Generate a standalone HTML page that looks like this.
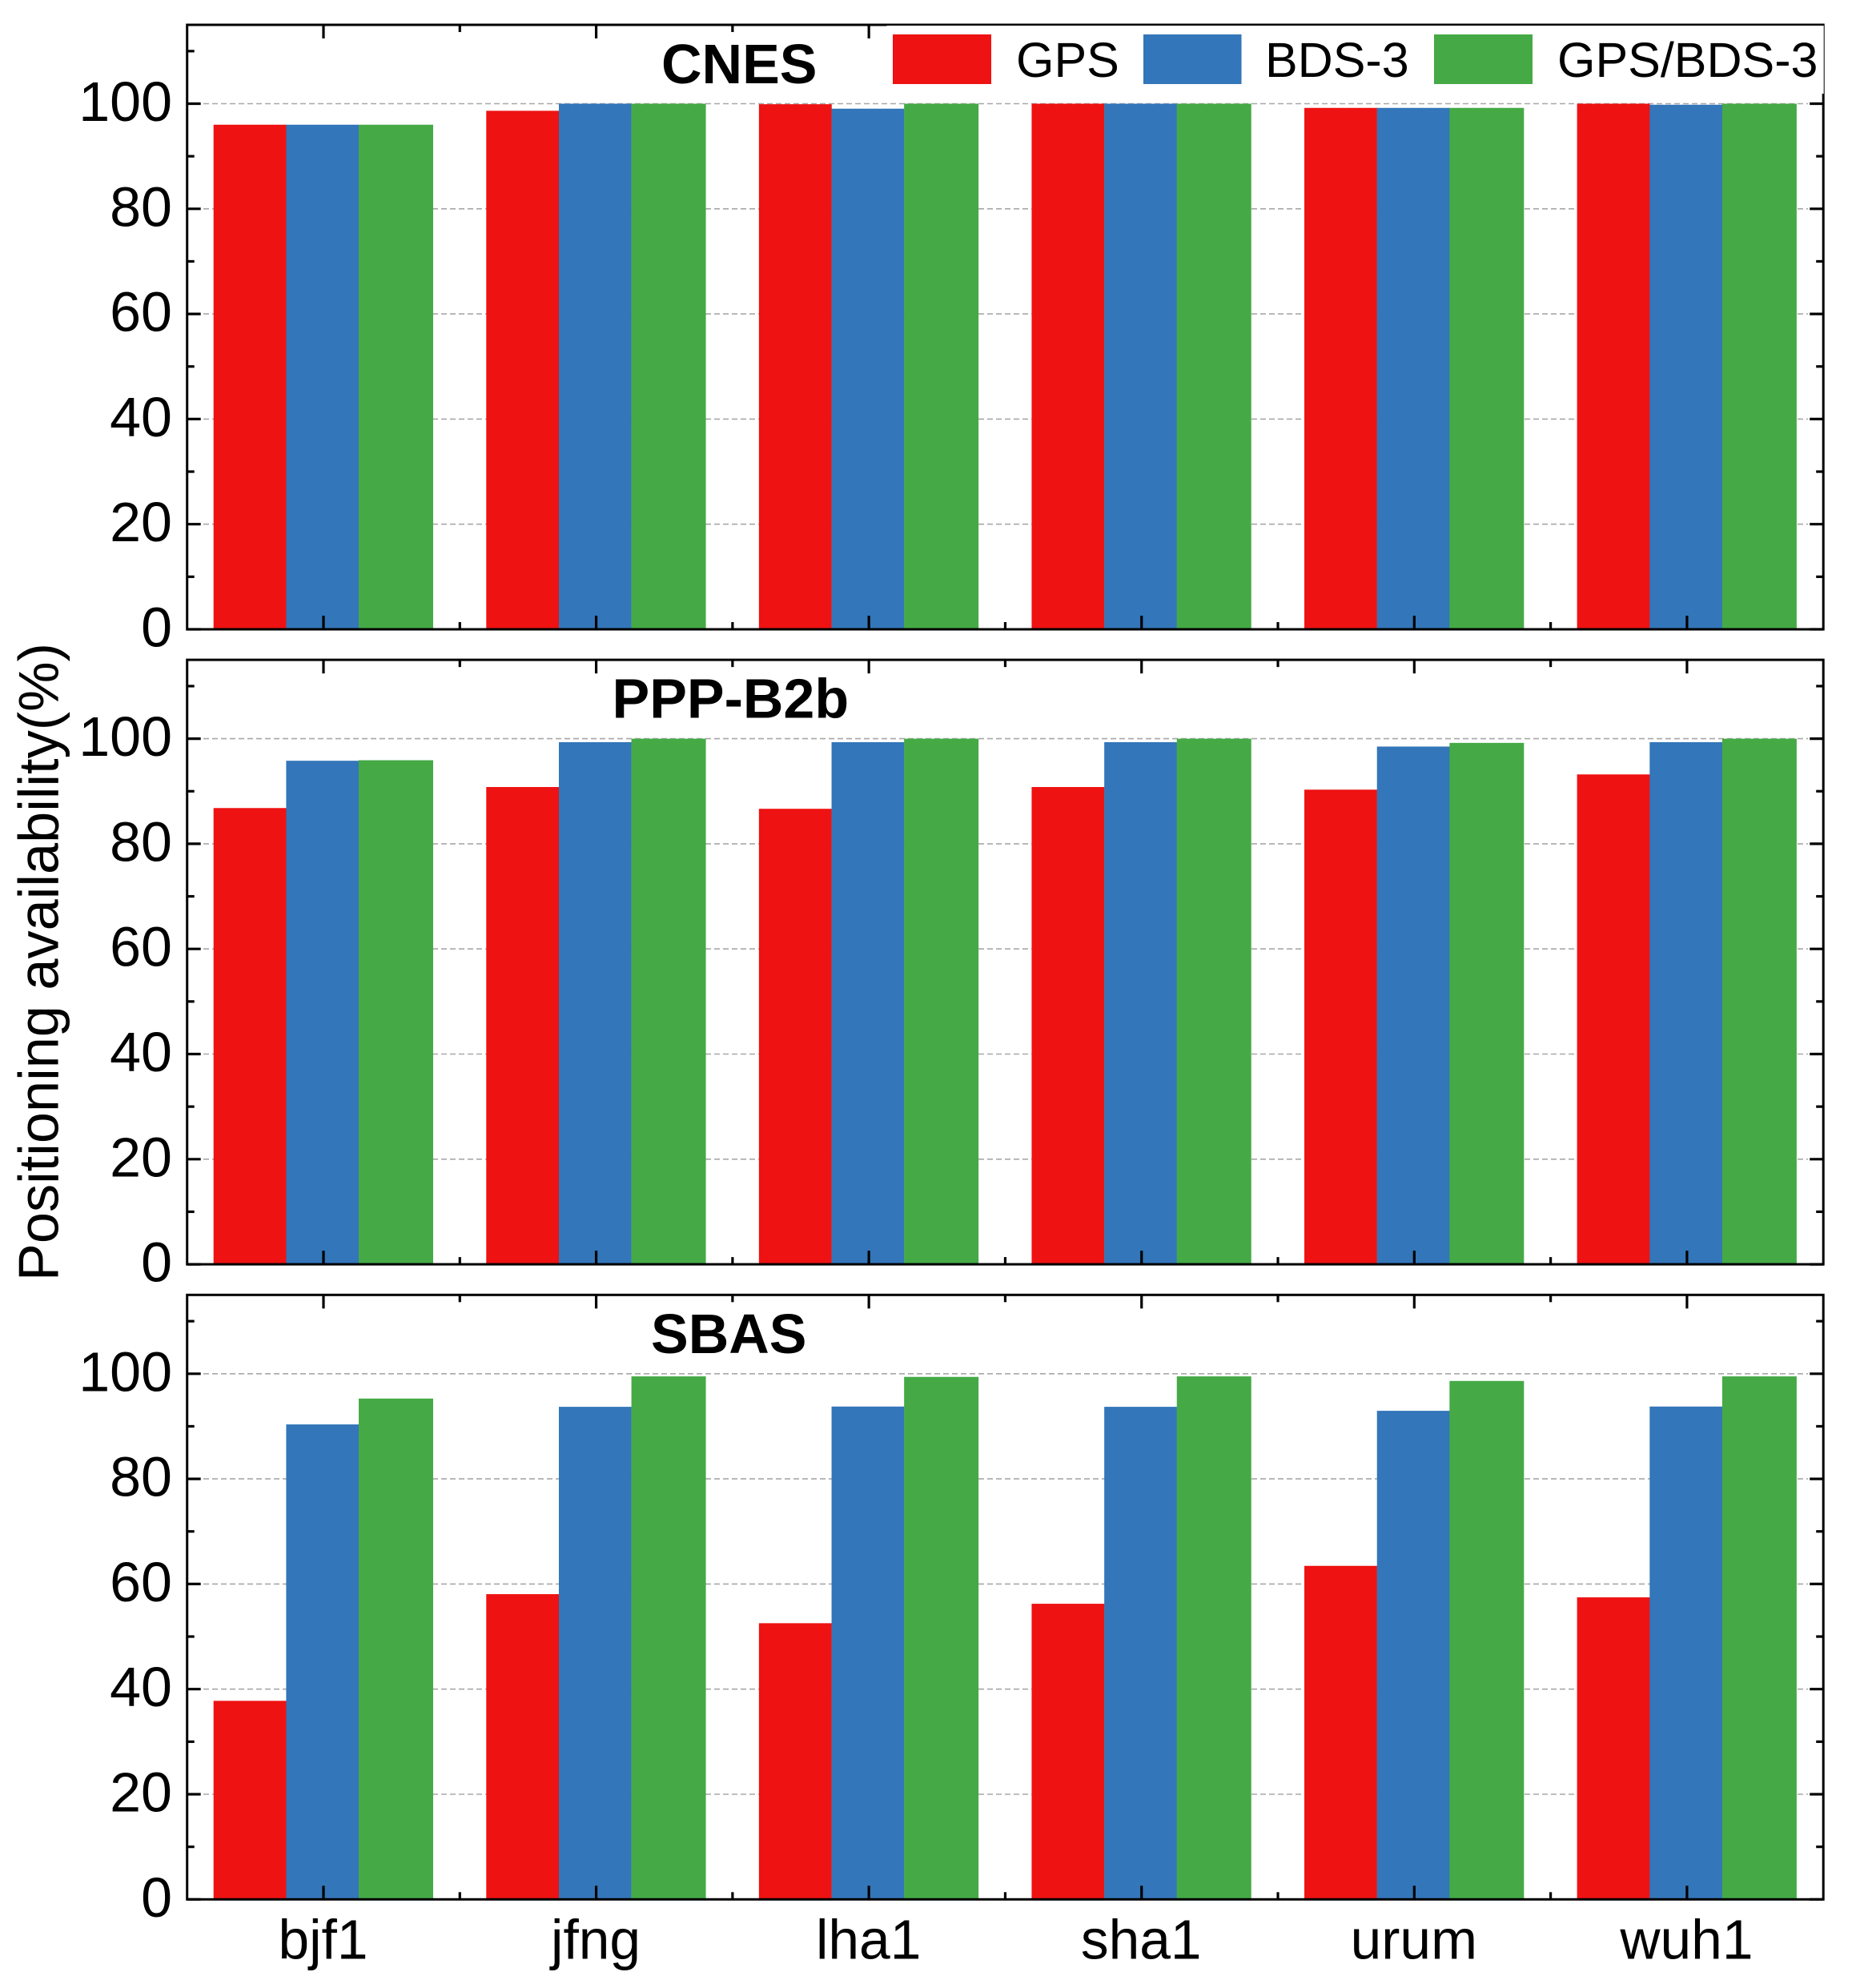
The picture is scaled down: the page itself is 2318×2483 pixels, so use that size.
<!DOCTYPE html>
<html lang="en">
<head>
<meta charset="utf-8">
<title>Positioning availability by station</title>
<style>
html,body{margin:0;padding:0;background:#fff;width:2318px;height:2483px;overflow:hidden}
svg{display:block;font-family:"Liberation Sans",Arial,sans-serif}
</style>
</head>
<body>
<svg id="chart" xmlns="http://www.w3.org/2000/svg" width="2318" height="2483" viewBox="0 0 2318 2483">
  <rect x="0" y="0" width="2318" height="2483" fill="#ffffff"/>
  <g id="panels"></g>
  <text transform="translate(72.5,1600) rotate(-90)" font-size="70.3" fill="#000">Positioning availability(%)</text>
  <g>
    <rect x="1107.5" y="32" width="1170.2" height="85" fill="#ffffff"/>
    <rect x="1115" y="43" width="123" height="62" fill="#EE1212"/>
    <text x="1269" y="96" font-size="61" fill="#000">GPS</text>
    <rect x="1428" y="43" width="122.5" height="62" fill="#3376B9"/>
    <text x="1580" y="96" font-size="61" fill="#000">BDS-3</text>
    <rect x="1791" y="43" width="123" height="62" fill="#45AA46"/>
    <text x="1945" y="96" font-size="61" fill="#000">GPS/BDS-3</text>
  </g>
</svg>
<script>
const categories = ['bjf1', 'jfng', 'lha1', 'sha1', 'urum', 'wuh1'];
const seriesNames = ['gps', 'bds3', 'gps-bds3'];
const panelNames = ['CNES', 'PPP-B2b', 'SBAS'];

const cnesGps = [96, 98.65, 99.9, 100, 99.2, 100];
const cnesBds = [96, 100, 99.05, 100, 99.2, 99.8];
const cnesCombined = [96, 100, 100, 100, 99.2, 100];

const b2bGps = [86.8, 90.8, 86.66, 90.8, 90.3, 93.2];
const b2bBds = [95.8, 99.34, 99.34, 99.34, 98.5, 99.34];
const b2bCombined = [95.9, 100, 100, 100, 99.2, 100];

const sbasGps = [37.77, 58.07, 52.54, 56.24, 63.45, 57.46];
const sbasBds = [90.36, 93.71, 93.76, 93.71, 92.95, 93.76];
const sbasCombined = [95.28, 99.5, 99.4, 99.5, 98.63, 99.5];

const yMajorTicks = [0, 20, 40, 60, 80, 100];
const yMinorTicks = [10, 30, 50, 70, 90, 110];
const yGridTicks = [20, 40, 60, 80, 100];
const yMax = 115;

const panelSeries = [
  [cnesGps, cnesBds, cnesCombined],
  [b2bGps, b2bBds, b2bCombined],
  [sbasGps, sbasBds, sbasCombined]
];

const SVG_NS = 'http://www.w3.org/2000/svg';
const panelsRoot = document.getElementById('panels');
const PLOT_LEFT = 233.7;
const PLOT_RIGHT = 2277.2;
const PANEL_BOTTOMS = [786, 1579.1, 2372.3];
const UNIT = 6.565;
const COLORS = ['#EE1212', '#3376B9', '#45AA46'];
const BAR_START = [-137.3, -46.6, 44];
const BAR_WIDTH = [90.9, 90.8, 93];
const BAND = (PLOT_RIGHT - PLOT_LEFT) / categories.length;

function xScale(i) {
  return PLOT_LEFT + BAND * (i + 0.5);
}
function yScale(panel, v) {
  return PANEL_BOTTOMS[panel] - v * UNIT;
}
function make(tag, attrs, parent) {
  const el = document.createElementNS(SVG_NS, tag);
  for (const k in attrs) el.setAttribute(k, attrs[k]);
  parent.appendChild(el);
  return el;
}
function tickLine(parent, x1, y1, x2, y2, name) {
  const t = make('line', {x1: x1, y1: y1, x2: x2, y2: y2, stroke: '#000', 'stroke-width': 3.2}, parent);
  
  
}

const TITLE_X = [826, 764.5, 813];
const TITLE_BASE_OFFSET = [-682, -682.4, -682.3];

panelNames.forEach(function (panelName, p) {
  const slug = panelName.toLowerCase();
  const top = yScale(p, yMax);
  const bottom = yScale(p, 0);
  const g = make('g', {}, panelsRoot);
  
  

  yGridTicks.forEach(function (v) {
    const y = yScale(p, v);
    const grid = make('line', {x1: 254, y1: y, x2: 2258, y2: y, stroke: '#a8a8a8', 'stroke-width': 1.6, 'stroke-dasharray': '7 4'}, g);
    
    
  });

  panelSeries[p].forEach(function (values, s) {
    values.forEach(function (v, i) {
      const y = yScale(p, v);
      const bar = make('rect', {x: xScale(i) + BAR_START[s], y: y, width: BAR_WIDTH[s], height: bottom - y, fill: COLORS[s]}, g);
      
      
    });
  });

  yMajorTicks.forEach(function (v) {
    const y = yScale(p, v);
    tickLine(g, PLOT_LEFT, y, PLOT_LEFT + 17, y, 'y-major-tick-left');
    tickLine(g, PLOT_RIGHT, y, PLOT_RIGHT - 17, y, 'y-major-tick-right');
    const label = make('text', {x: 215, y: y + 21.5, 'text-anchor': 'end', 'font-size': 70, fill: '#000'}, g);
    
    
    label.textContent = String(v);
  });
  yMinorTicks.forEach(function (v) {
    const y = yScale(p, v);
    tickLine(g, PLOT_LEFT, y, PLOT_LEFT + 9, y, 'y-minor-tick-left');
    tickLine(g, PLOT_RIGHT, y, PLOT_RIGHT - 9, y, 'y-minor-tick-right');
  });

  categories.forEach(function (c, i) {
    const x = xScale(i);
    tickLine(g, x, bottom, x, bottom - 17, 'x-major-tick-bottom');
    tickLine(g, x, top, x, top + 17, 'x-major-tick-top');
    if (i > 0) {
      const mx = x - BAND / 2;
      tickLine(g, mx, bottom, mx, bottom - 9, 'x-minor-tick-bottom');
      tickLine(g, mx, top, mx, top + 9, 'x-minor-tick-top');
    }
  });

  const frame = make('rect', {x: PLOT_LEFT, y: top, width: PLOT_RIGHT - PLOT_LEFT, height: bottom - top, fill: 'none', stroke: '#000', 'stroke-width': 3}, g);
  
  

  const title = make('text', {x: TITLE_X[p], y: bottom + TITLE_BASE_OFFSET[p], 'font-size': 70, 'font-weight': 'bold', fill: '#000'}, g);
  
  
  title.textContent = panelName;
});

categories.forEach(function (c, i) {
  const label = make('text', {x: xScale(i) - 0.5, y: 2446.7, 'text-anchor': 'middle', 'font-size': 69.5, fill: '#000'}, panelsRoot);
  
  
  label.textContent = c;
});
</script>
</body>
</html>
